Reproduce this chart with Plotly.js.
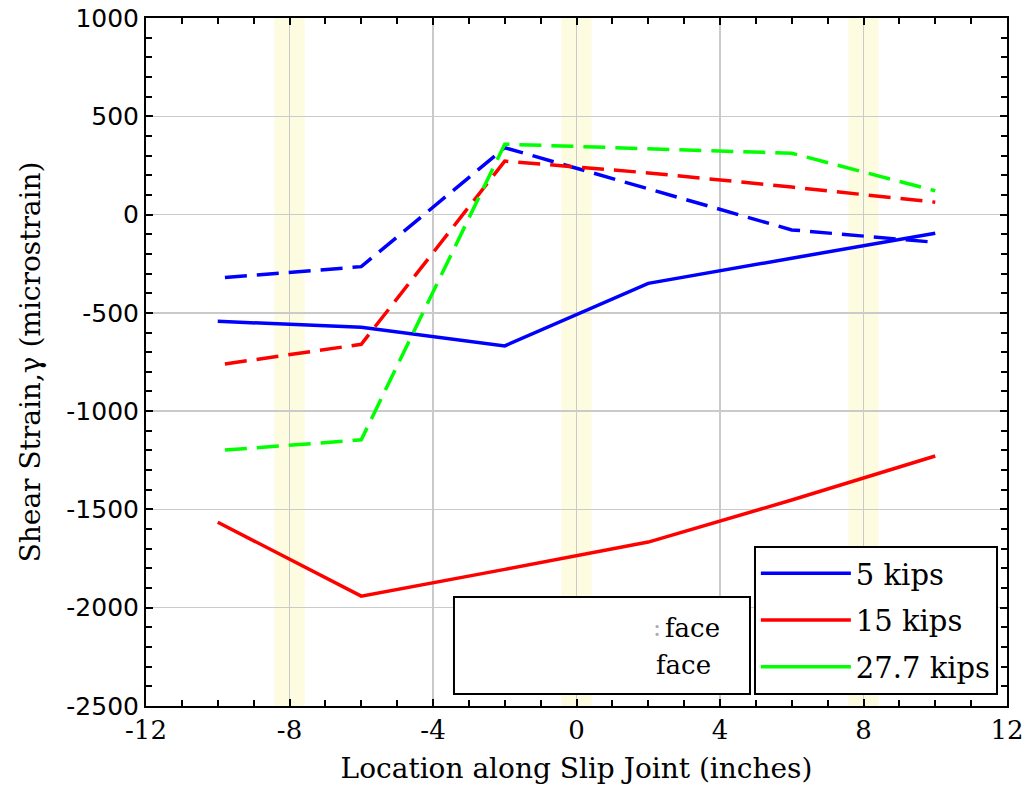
<!DOCTYPE html>
<html><head><meta charset="utf-8">
<script src="https://cdn.plot.ly/plotly-3.0.1.min.js"></script>
<style>html,body{margin:0;padding:0;background:#fff;} #chart{width:1028px;height:789px;}</style>
</head><body><div id="chart"></div>
<script>
// Data
const locSolid = [-10, -6, -2, 2, 6, 10];
const locDashed = [-9.8, -6, -2, 2, 6, 10];
const kips5Solid = [-543, -573, -668, -350, -222, -95];
const kips15Solid = [-1565, -1941, -1805, -1666, -1452, -1228];
const kips5Dashed = [-320, -265, 340, 131, -78, -141];
const kips15Dashed = [-760, -660, 272, 212, 140, 63];
const kips277Dashed = [-1198, -1146, 358, 334, 312, 121];
const seriesNames = ['5 kips', '15 kips', '27.7 kips'];
const gaugeLocations = [-8, 0, 8];
const xTickVals = [-12, -8, -4, 0, 4, 8, 12];
const yTickVals = [-2500, -2000, -1500, -1000, -500, 0, 500, 1000];
const faceLines = ['face', 'face'];

const BLUE = '#0000ff', RED = '#ff0000', GREEN = '#00ff00';
const DASH = '22px,10px';
const serif = 'DejaVu Serif';
const sans = 'DejaVu Sans';

const traces = [
  {x: locSolid, y: kips5Solid, name: seriesNames[0], legendgroup: 'a', mode: 'lines', line: {color: BLUE, width: 3.5}},
  {x: locSolid, y: kips15Solid, name: seriesNames[1], legendgroup: 'b', mode: 'lines', line: {color: RED, width: 3.5}},
  {x: [null], y: [null], name: seriesNames[2], legendgroup: 'c', mode: 'lines', line: {color: GREEN, width: 3.5}},
  {x: locDashed, y: kips5Dashed, name: seriesNames[0] + ' (dashed)', showlegend: false, mode: 'lines', line: {color: BLUE, width: 3.5, dash: DASH}},
  {x: locDashed, y: kips15Dashed, name: seriesNames[1] + ' (dashed)', showlegend: false, mode: 'lines', line: {color: RED, width: 3.5, dash: DASH}},
  {x: locDashed, y: kips277Dashed, name: seriesNames[2] + ' (dashed)', showlegend: false, mode: 'lines', line: {color: GREEN, width: 3.5, dash: DASH}}
];

const shapes = gaugeLocations.map(g => ({
  type: 'rect', xref: 'x', yref: 'paper', x0: g - 0.42, x1: g + 0.42, y0: 0, y1: 1,
  fillcolor: '#fdfbe0', line: {width: 0}, layer: 'below'
}));
shapes.push({type: 'rect', xref: 'paper', yref: 'paper', x0: 0.3577, x1: 0.7015, y0: 0.0174, y1: 0.1584,
  fillcolor: '#ffffff', line: {color: '#000000', width: 2}, layer: 'above'});

const annotations = [
  {xref: 'paper', yref: 'paper', x: 0.5935, y: 0.1134, xanchor: 'center', yanchor: 'middle',
   text: ':', showarrow: false, font: {family: serif, size: 24, color: '#aaaaaa'}},
  {xref: 'paper', yref: 'paper', x: 0.6353, y: 0.1134, xanchor: 'center', yanchor: 'middle',
   text: faceLines[0], showarrow: false, font: {family: serif, size: 26, color: '#000'}},
  {xref: 'paper', yref: 'paper', x: 0.6237, y: 0.0596, xanchor: 'center', yanchor: 'middle',
   text: faceLines[1], showarrow: false, font: {family: serif, size: 26, color: '#000'}}
];

const axisCommon = {
  showline: true, linecolor: '#000', linewidth: 2, mirror: 'ticks',
  ticks: 'inside', ticklen: 7, tickwidth: 2, tickcolor: '#000',
  showgrid: true, gridcolor: '#cacaca', gridwidth: 1.5, zeroline: false
};

const layout = {
  width: 1028, height: 789,
  margin: {l: 146, r: 21, t: 18, b: 83},
  paper_bgcolor: '#fff', plot_bgcolor: '#fff',
  showlegend: true,
  xaxis: Object.assign({}, axisCommon, {
    range: [-12, 12], tickvals: xTickVals, ticktext: xTickVals.map(String),
    minor: {dtick: 1, tick0: 0, ticks: 'inside', ticklen: 6, tickwidth: 2, tickcolor: '#000', showgrid: false},
    tickfont: {family: serif, size: 26, color: '#000'},
    title: {text: 'Location along Slip Joint (inches)', font: {family: serif, size: 28, color: '#000'}, standoff: 14}
  }),
  yaxis: Object.assign({}, axisCommon, {
    range: [-2500, 1000], tickvals: yTickVals, ticktext: yTickVals.map(String),
    minor: {dtick: 100, tick0: 0, ticks: 'inside', ticklen: 6, tickwidth: 2, tickcolor: '#000', showgrid: false},
    tickfont: {family: sans, size: 25, color: '#000'},
    title: {text: 'Shear Strain,γ (microstrain)', font: {family: serif, size: 28, color: '#000'}, standoff: 18}
  }),
  legend: {
    x: 0.706, y: 0.016, xanchor: 'left', yanchor: 'bottom',
    bgcolor: '#fff', bordercolor: '#000', borderwidth: 2, traceorder: 'grouped', tracegroupgap: 6,
    font: {family: serif, size: 29, color: '#000'}, itemwidth: 90
  },
  shapes: shapes,
  annotations: annotations
};

Plotly.newPlot('chart', traces, layout, {displayModeBar: false, staticPlot: true});
</script>
</body></html>
